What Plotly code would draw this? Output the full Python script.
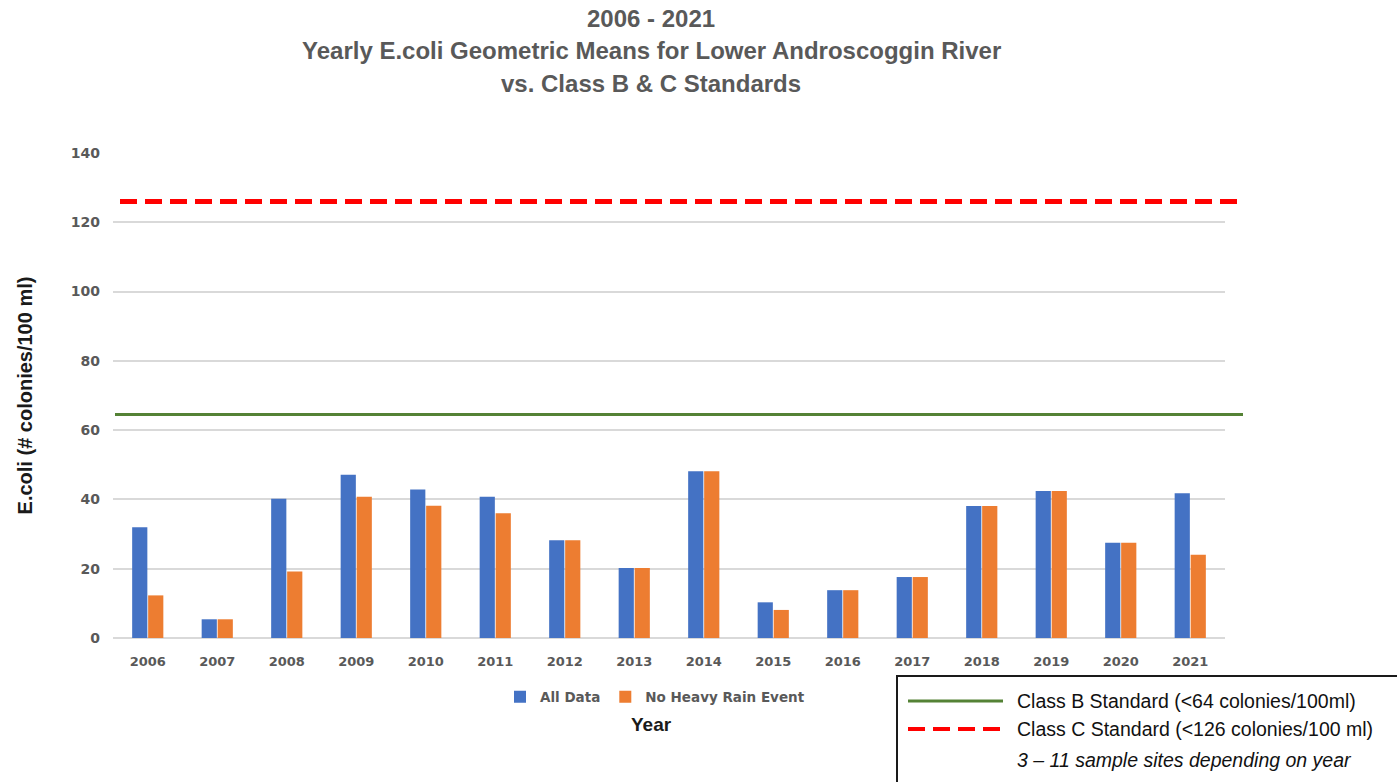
import plotly.graph_objects as go

# ─── data ───
years = [str(y) for y in range(2006, 2022)]
all_data = [32, 5.4, 40.2, 47.1, 42.9, 40.8, 28.2, 20.2, 48.1, 10.3, 13.8, 17.6, 38.1, 42.4, 27.5, 41.8]
no_heavy_rain = [12.3, 5.4, 19.2, 40.8, 38.2, 36.0, 28.2, 20.2, 48.1, 8.1, 13.8, 17.6, 38.1, 42.4, 27.5, 24.0]
class_b = 64.5
class_c = 126

# ─── colours ───
BLUE = '#4472C4'
ORANGE = '#ED7D31'
GREEN = '#548235'
RED = '#FF0000'
GRAY = '#595959'
GRID = '#D9D9D9'

# plot area in pixels (for paper coordinates)
PX0, PX1, PY0, PY1 = 113, 1225, 638, 153


def px(x):
    return (x - PX0) / (PX1 - PX0)


def py(y):
    return (PY0 - y) / (PY0 - PY1)


fig = go.Figure()
fig.add_trace(go.Bar(x=years, y=all_data, name='All Data',
                     marker=dict(color=BLUE, line=dict(width=0))))
fig.add_trace(go.Bar(x=years, y=no_heavy_rain, name='No Heavy Rain Event',
                     marker=dict(color=ORANGE, line=dict(width=0))))

# standards lines (span a bit past the plot area, like the original)
fig.add_shape(type='line', xref='paper', yref='y', x0=px(115), x1=px(1243),
              y0=class_b, y1=class_b, line=dict(color=GREEN, width=3))
fig.add_shape(type='line', xref='paper', yref='y', x0=px(120), x1=px(1243),
              y0=class_c, y1=class_c, line=dict(color=RED, width=5, dash='17px,8px'))

# title (three centred lines)
for text, ypix in [('2006 - 2021', 18),
                   ('Yearly E.coli Geometric Means for Lower Androscoggin River', 50),
                   ('vs. Class B & C Standards', 83)]:
    fig.add_annotation(text=f'<b>{text}</b>', xref='paper', yref='paper',
                       x=px(651), y=py(ypix), xanchor='center', yanchor='middle',
                       showarrow=False,
                       font=dict(family='Liberation Sans', size=24, color=GRAY))

# x axis title
fig.add_annotation(text='<b>Year</b>', xref='paper', yref='paper',
                   x=px(651), y=py(724), xanchor='center', yanchor='middle',
                   showarrow=False, font=dict(family='Liberation Sans', size=19, color='#1a1a1a'))

# standards key box
fig.add_shape(type='rect', xref='paper', yref='paper',
              x0=px(897), x1=px(1420), y0=py(676), y1=py(800),
              line=dict(color='#1a1a1a', width=2), fillcolor='white', layer='above')
fig.add_shape(type='line', xref='paper', yref='paper', x0=px(908), x1=px(1003),
              y0=py(701), y1=py(701), line=dict(color=GREEN, width=3))
fig.add_shape(type='line', xref='paper', yref='paper', x0=px(908), x1=px(1003),
              y0=py(729), y1=py(729), line=dict(color=RED, width=4, dash='17px,8px'))
for text, ypix in [('Class B Standard (&lt;64 colonies/100ml)', 701),
                   ('Class C Standard (&lt;126 colonies/100 ml)', 729),
                   ('<i>3 – 11 sample sites depending on year</i>', 760)]:
    fig.add_annotation(text=text, xref='paper', yref='paper',
                       x=px(1015), y=py(ypix), xanchor='left', yanchor='middle',
                       showarrow=False,
                       font=dict(family='Liberation Sans', size=19.5, color='#111111'))

fig.update_layout(
    width=1397, height=782,
    paper_bgcolor='white', plot_bgcolor='white',
    margin=dict(l=PX0, r=1397 - PX1, t=PY1, b=782 - PY0, autoexpand=False),
    barmode='group', bargap=0.54, bargroupgap=0.05,
    showlegend=True,
    legend=dict(orientation='h', x=px(655), y=py(697), xanchor='center', yanchor='middle',
                font=dict(family='DejaVu Sans', size=13.5, color=GRAY, weight='bold'),
                itemwidth=30, traceorder='normal'),
    xaxis=dict(type='category', showgrid=False, showline=False, ticks='',
               ticklabelstandoff=14,
               tickfont=dict(family='DejaVu Sans', size=13, color=GRAY, weight='bold')),
    yaxis=dict(range=[0, 140], dtick=20, showgrid=True, gridcolor=GRID, gridwidth=1.5,
               zeroline=True, zerolinecolor=GRID, zerolinewidth=1.5, showline=False,
               ticks='', ticklabelstandoff=12,
               tickfont=dict(family='DejaVu Sans', size=14, color=GRAY, weight='bold'),
               title=dict(text='<b>E.coli (# colonies/100 ml)</b>', standoff=32,
                          font=dict(family='Liberation Sans', size=20, color='#1a1a1a'))),
)

fig.write_html('out.html', config={'displayModeBar': False},
               post_script="document.body.style.margin='0';document.body.style.overflow='hidden';")
